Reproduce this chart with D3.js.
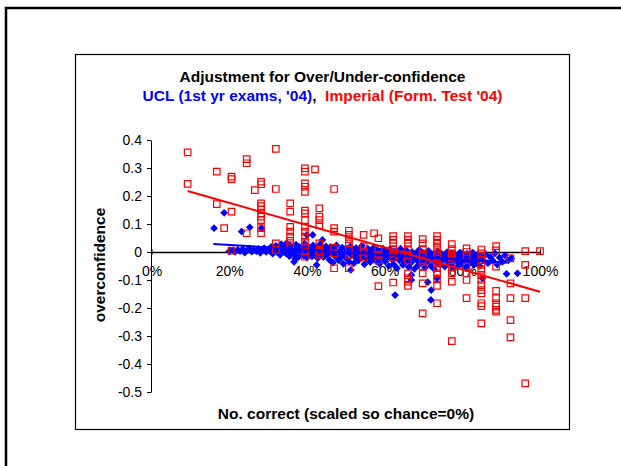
<!DOCTYPE html>
<html>
<head>
<meta charset="utf-8">
<title>Adjustment for Over/Under-confidence</title>
<script src="https://cdn.jsdelivr.net/npm/d3@7"></script>
<style>
  body { margin: 0; background: #fff; }
  svg { display: block; }
  text { font-family: Arial, "Liberation Sans", sans-serif; }
</style>
</head>
<body>
<svg id="chart" width="621" height="466"></svg>
<script>
  // tick values
  const xTicks = [0, 0.2, 0.4, 0.6, 0.8, 1.0];
  const yTicks = [0.4, 0.3, 0.2, 0.1, 0, -0.1, -0.2, -0.3, -0.4, -0.5];

  // Imperial (Form. Test '04) - hollow red squares, [x, y]
  const imperialPoints = [
    [0.093, 0.356], [0.093, 0.243],
    [0.168, 0.287], [0.168, 0.171],
    [0.187, 0.085],
    [0.206, 0.269], [0.206, 0.26], [0.206, 0.144], [0.206, 0.005],
    [0.245, 0.332], [0.245, 0.317], [0.245, 0.067],
    [0.266, 0.221],
    [0.282, 0.251], [0.282, 0.242], [0.282, 0.174], [0.282, 0.164], [0.282, 0.152], [0.282, 0.138],
    [0.282, 0.126], [0.282, 0.114], [0.282, 0.085], [0.282, 0.067],
    [0.32, 0.368], [0.32, 0.225], [0.32, 0.031], [0.32, 0.007],
    [0.357, 0.174], [0.357, 0.144], [0.357, 0.09], [0.357, 0.073], [0.357, 0.055], [0.357, 0.04], [0.357, 0.025],
    [0.395, 0.299], [0.395, 0.287], [0.395, 0.245], [0.395, 0.233], [0.395, 0.215], [0.395, 0.148], [0.395, 0.138],
    [0.395, 0.114], [0.395, 0.09], [0.395, 0.073], [0.395, 0.055], [0.395, 0.037], [0.395, 0.019], [0.395, 0.001], [0.395, -0.017],
    [0.421, 0.295],
    [0.432, 0.156], [0.432, 0.126], [0.432, 0.114], [0.432, 0.096], [0.432, 0.031], [0.432, 0.001], [0.432, -0.01],
    [0.47, 0.225], [0.47, 0.085], [0.47, 0.073], [0.47, 0.015], [0.47, -0.005], [0.47, -0.058],
    [0.508, 0.076], [0.508, 0.061], [0.508, 0.046], [0.508, 0.031], [0.508, 0.01], [0.508, -0.01], [0.508, -0.058],
    [0.546, 0.061], [0.546, 0.02], [0.546, 0.0], [0.546, -0.02],
    [0.573, 0.067],
    [0.584, 0.049], [0.584, 0.01], [0.584, -0.01], [0.584, -0.03], [0.584, -0.122],
    [0.622, 0.057], [0.622, 0.043], [0.622, 0.031], [0.622, 0.01], [0.622, -0.005], [0.622, -0.02], [0.622, -0.109],
    [0.66, 0.057], [0.66, 0.043], [0.66, 0.03], [0.66, 0.01], [0.66, -0.01], [0.66, -0.03], [0.66, -0.076],
    [0.66, -0.094], [0.66, -0.106], [0.66, -0.121],
    [0.698, 0.046], [0.698, 0.031], [0.698, 0.01], [0.698, -0.005], [0.698, -0.035], [0.698, -0.052], [0.698, -0.076],
    [0.698, -0.112], [0.698, -0.219],
    [0.735, 0.057], [0.735, 0.043], [0.735, 0.03], [0.735, 0.015], [0.735, 0.0], [0.735, -0.015], [0.735, -0.041],
    [0.735, -0.058], [0.735, -0.076], [0.735, -0.094], [0.735, -0.121], [0.735, -0.183],
    [0.773, 0.028], [0.773, 0.01], [0.773, -0.005], [0.773, -0.02], [0.773, -0.052], [0.773, -0.076], [0.773, -0.106], [0.773, -0.318],
    [0.811, 0.013], [0.811, 0.0], [0.811, -0.015], [0.811, -0.052], [0.811, -0.076], [0.811, -0.1], [0.811, -0.165],
    [0.849, 0.009], [0.849, -0.005], [0.849, -0.029], [0.849, -0.046], [0.849, -0.064], [0.849, -0.082], [0.849, -0.1],
    [0.849, -0.118], [0.849, -0.136], [0.849, -0.148], [0.849, -0.183], [0.849, -0.193], [0.849, -0.255],
    [0.887, 0.021], [0.887, 0.006], [0.887, -0.052], [0.887, -0.139], [0.887, -0.165], [0.887, -0.183], [0.887, -0.195],
    [0.887, -0.207], [0.887, -0.213],
    [0.924, -0.023], [0.924, -0.112], [0.924, -0.165], [0.924, -0.243], [0.924, -0.305],
    [0.962, 0.003], [0.962, -0.046], [0.962, -0.165], [0.962, -0.469],
    [1.0, 0.003]
  ];

  // UCL (1st yr exams, '04) - filled blue diamonds, [x, y]
  const uclPoints = [
    [0.161, 0.085], [0.187, 0.14], [0.232, 0.073], [0.253, 0.088], [0.283, 0.085], [0.40, 0.061], [0.415, 0.061],
    [0.44, 0.043], [0.37, -0.024], [0.367, -0.035], [0.425, -0.046], [0.513, -0.064], [0.627, -0.154], [0.669, -0.082],
    [0.669, -0.1], [0.711, -0.108], [0.72, -0.136], [0.719, -0.171], [0.735, -0.094], [0.852, -0.094], [0.942, -0.076],
    [0.914, -0.078],
    [0.2, 0.002], [0.208, 0.006], [0.215, 0.0], [0.222, 0.008], [0.228, 0.003], [0.235, 0.01], [0.24, -0.002],
    [0.246, 0.005], [0.252, 0.012], [0.258, 0.001], [0.263, 0.007], [0.27, 0.003], [0.275, 0.011], [0.28, -0.003],
    [0.286, 0.006], [0.29, 0.014], [0.295, 0.0], [0.3, 0.009],
    [0.305, 0.004], [0.308, 0.018], [0.312, -0.006], [0.316, 0.01], [0.32, 0.022], [0.323, 0.0], [0.327, 0.013],
    [0.331, -0.01], [0.334, 0.028], [0.338, 0.006], [0.341, 0.017], [0.345, -0.004], [0.348, 0.032], [0.352, 0.01],
    [0.355, -0.015], [0.358, 0.022], [0.362, 0.003], [0.365, 0.015], [0.368, -0.008], [0.372, 0.026], [0.375, 0.007],
    [0.378, -0.018], [0.381, 0.018], [0.385, 0.0], [0.388, 0.012], [0.391, -0.012], [0.394, 0.03], [0.397, 0.005],
    [0.4, -0.02], [0.403, 0.02], [0.406, -0.004], [0.41, 0.01], [0.413, -0.016], [0.416, 0.024], [0.419, 0.002],
    [0.422, -0.01], [0.425, 0.015], [0.428, -0.022], [0.431, 0.006], [0.434, 0.028], [0.437, -0.006], [0.44, 0.012],
    [0.443, -0.018], [0.446, 0.002], [0.449, 0.02],
    [0.452, -0.01], [0.455, 0.008], [0.458, -0.028], [0.461, 0.018], [0.464, -0.002], [0.467, -0.038], [0.47, 0.01],
    [0.473, -0.016], [0.476, 0.024], [0.479, -0.006], [0.482, -0.03], [0.485, 0.004], [0.488, -0.02], [0.491, 0.016],
    [0.494, -0.042], [0.497, -0.008], [0.5, 0.012], [0.503, -0.025], [0.506, 0.0], [0.509, -0.035], [0.512, 0.02],
    [0.515, -0.012], [0.518, 0.006], [0.521, -0.04], [0.524, -0.018], [0.527, 0.014], [0.53, -0.004], [0.533, -0.03],
    [0.536, 0.008], [0.539, -0.02], [0.542, 0.022], [0.545, -0.01], [0.548, -0.044], [0.551, 0.002], [0.554, -0.026],
    [0.557, 0.012], [0.56, -0.014], [0.563, -0.036], [0.566, 0.004], [0.569, -0.02], [0.572, 0.016], [0.575, -0.006],
    [0.578, -0.032], [0.581, 0.008], [0.584, -0.016], [0.587, -0.042], [0.59, 0.0], [0.593, -0.024], [0.596, 0.012],
    [0.599, -0.01],
    [0.602, -0.034], [0.605, 0.004], [0.608, -0.018], [0.611, -0.05], [0.614, 0.01], [0.617, -0.008], [0.62, -0.028],
    [0.623, -0.044], [0.626, 0.002], [0.629, -0.016], [0.632, -0.058], [0.635, -0.004], [0.638, -0.03], [0.641, 0.012],
    [0.644, -0.02], [0.647, -0.046], [0.65, -0.008], [0.653, -0.036], [0.656, 0.006], [0.659, -0.024], [0.662, -0.054],
    [0.665, -0.012], [0.668, -0.038], [0.671, 0.0], [0.674, -0.02], [0.677, -0.06], [0.68, -0.006], [0.683, -0.03],
    [0.686, -0.048], [0.689, 0.008], [0.692, -0.016], [0.695, -0.04], [0.698, -0.002], [0.701, -0.026], [0.704, -0.056],
    [0.707, -0.01], [0.71, -0.034], [0.713, 0.004], [0.716, -0.02], [0.719, -0.05], [0.722, -0.008], [0.725, -0.03],
    [0.728, -0.062], [0.731, -0.014], [0.734, -0.038], [0.737, 0.002], [0.74, -0.022], [0.743, -0.046], [0.746, -0.006],
    [0.749, -0.03], [0.752, -0.012], [0.755, -0.052], [0.758, -0.02], [0.761, 0.0], [0.764, -0.036], [0.767, -0.016],
    [0.77, -0.044], [0.773, -0.004], [0.776, -0.026], [0.779, -0.058], [0.782, -0.01], [0.785, -0.032], [0.788, -0.018],
    [0.791, -0.048], [0.794, -0.002], [0.797, -0.024], [0.8, -0.038], [0.803, -0.012], [0.806, -0.03], [0.809, -0.054],
    [0.812, -0.006], [0.815, -0.022], [0.818, -0.04], [0.821, -0.014], [0.824, -0.032], [0.827, -0.002], [0.83, -0.046],
    [0.833, -0.02], [0.836, -0.036], [0.839, -0.01], [0.842, -0.028], [0.845, -0.05], [0.848, -0.016],
    [0.855, -0.03], [0.86, -0.008], [0.866, -0.04], [0.872, -0.018], [0.878, -0.03], [0.884, -0.005], [0.89, -0.045],
    [0.896, -0.02], [0.903, -0.035], [0.91, -0.012], [0.918, -0.03], [0.926, -0.022]
  ];

  // linear trend lines (end points)
  const imperialTrend = [[0.093, 0.218], [1.0, -0.142]];
  const uclTrend = [[0.159, 0.029], [0.914, -0.038]];

  const blue = "#0000FF";
  const red = "#FF0000";

  const svg = d3.select("#chart");

  // outer frame (cut off on the right and bottom)
  svg.append("rect")
    .attr("x", 6).attr("y", 8)
    .attr("width", 700).attr("height", 600)
    .attr("fill", "none").attr("stroke", "#000").attr("stroke-width", 2.5);

  // chart area box
  svg.append("rect")
    .attr("x", 75.5).attr("y", 54.5)
    .attr("width", 494).attr("height", 375)
    .attr("fill", "#fff").attr("stroke", "#000").attr("stroke-width", 1.2);

  const x = d3.scaleLinear().domain([0, 1]).range([151.5, 540]);
  const y = d3.scaleLinear().domain([-0.5, 0.4]).range([392, 140]);

  // y axis
  const yAxis = svg.append("g")
    .attr("transform", "translate(151,0)")
    .call(d3.axisLeft(y).tickValues(yTicks).tickSizeInner(4).tickSizeOuter(0).tickPadding(5)
      .tickFormat(d => d === 0 ? "0" : d.toFixed(1)));
  yAxis.select(".domain").attr("stroke", "#000");
  yAxis.selectAll(".tick line").attr("stroke", "#000");
  yAxis.selectAll(".tick text")
    .attr("font-family", "Arial, 'Liberation Sans', sans-serif")
    .attr("font-size", "14px").attr("fill", "#000");

  // x axis along y = 0, ticks crossing the line
  const xAxis = svg.append("g")
    .attr("transform", "translate(0," + y(0) + ")")
    .call(d3.axisBottom(x).tickValues(xTicks).tickSizeInner(3).tickSizeOuter(0).tickPadding(11)
      .tickFormat(d3.format(".0%")));
  xAxis.select(".domain").attr("stroke", "#000").attr("stroke-width", 1.6);
  xAxis.selectAll(".tick line").attr("stroke", "#000").attr("y1", -3);
  xAxis.selectAll(".tick text")
    .attr("font-family", "Arial, 'Liberation Sans', sans-serif")
    .attr("font-size", "14px").attr("fill", "#000");

  // UCL diamonds
  const diamond = d3.symbol().type(d3.symbolSquare).size(30);
  svg.append("g")
    .selectAll("path")
    .data(uclPoints)
    .enter()
    .append("path")
    .attr("d", diamond)
    .attr("transform", d => "translate(" + x(d[0]) + "," + y(d[1]) + ") rotate(45)")
    .attr("fill", blue);

  // Imperial squares (hollow)
  const square = d3.symbol().type(d3.symbolSquare).size(42);
  svg.append("g")
    .selectAll("path")
    .data(imperialPoints)
    .enter()
    .append("path")
    .attr("d", square)
    .attr("transform", d => "translate(" + x(d[0]) + "," + y(d[1]) + ")")
    .attr("fill", "none")
    .attr("stroke", red).attr("stroke-width", 1.2);

  // trend lines
  const line = d3.line().x(d => x(d[0])).y(d => y(d[1]));
  svg.append("path").datum(uclTrend)
    .attr("d", line).attr("stroke", blue).attr("stroke-width", 2).attr("fill", "none");
  svg.append("path").datum(imperialTrend)
    .attr("d", line).attr("stroke", red).attr("stroke-width", 2).attr("fill", "none");

  // titles
  svg.append("text")
    .attr("x", 322.5).attr("y", 82)
    .attr("text-anchor", "middle")
    .attr("font-size", "15.5px").attr("font-weight", "bold")
    .text("Adjustment for Over/Under-confidence");

  const sub = svg.append("text")
    .attr("x", 322.5).attr("y", 101)
    .attr("text-anchor", "middle")
    .attr("font-size", "15.5px").attr("font-weight", "bold")
    .style("white-space", "pre");
  sub.append("tspan").attr("fill", blue).text("UCL (1st yr exams, '04)");
  sub.append("tspan").attr("fill", "#000").text(",  ");
  sub.append("tspan").attr("fill", red).text("Imperial (Form. Test '04)");

  svg.append("text")
    .attr("x", 346).attr("y", 419)
    .attr("text-anchor", "middle")
    .attr("font-size", "15.5px").attr("font-weight", "bold")
    .text("No. correct (scaled so chance=0%)");

  svg.append("text")
    .attr("transform", "translate(105,265) rotate(-90)")
    .attr("text-anchor", "middle")
    .attr("font-size", "15.5px").attr("font-weight", "bold")
    .text("overconfidence");
</script>
</body>
</html>
